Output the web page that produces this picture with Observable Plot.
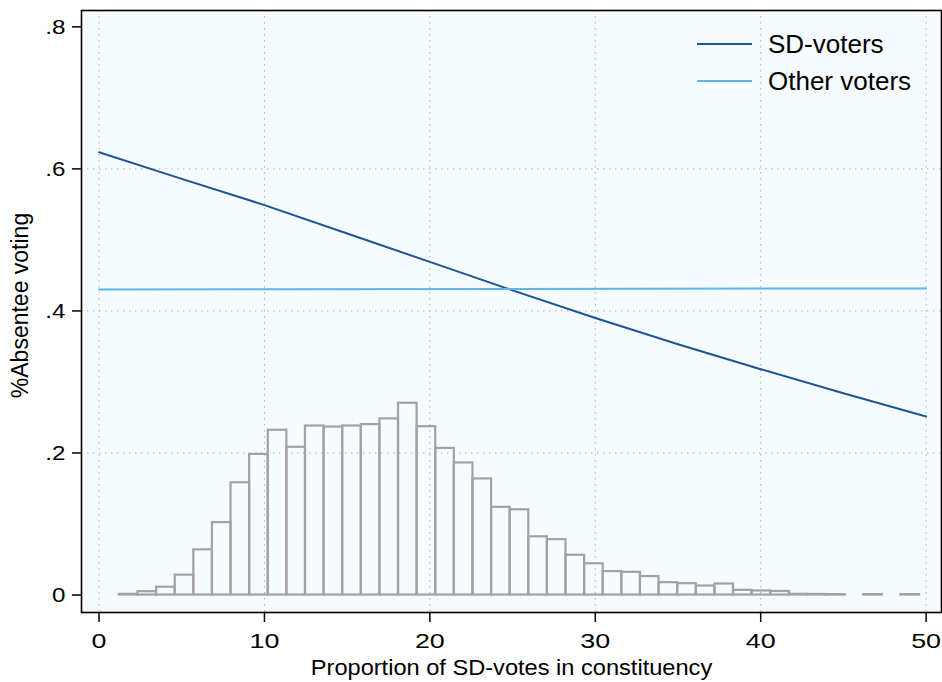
<!DOCTYPE html>
<html>
<head>
<meta charset="utf-8">
<script src="https://cdn.jsdelivr.net/npm/d3@7"></script>
<script src="https://cdn.jsdelivr.net/npm/@observablehq/plot@0.6"></script>
<style>
  body { margin: 0; background: #ffffff; }
  #wrap { position: relative; width: 942px; height: 682px; }
  #legend { position: absolute; left: 697px; top: 25.5px; font-family: "Liberation Sans", Arial, Helvetica, sans-serif; font-size: 26px; color: #000; }
  #legend .item { display: flex; align-items: center; height: 37px; }
  #legend .sw { width: 55px; height: 0; border-top: 2px solid; margin-right: 16px; }
</style>
</head>
<body>
<div id="wrap"><div id="legend"></div></div>
<script>
// Histogram of SD vote share (density), 43 bins
const binStart = 1.23;
const binWidth = 1.125;
const binHeights = [
  0.001, 0.0047, 0.011, 0.028, 0.0636, 0.102, 0.158, 0.198, 0.232, 0.208,
  0.238, 0.2365, 0.238, 0.240, 0.248, 0.270, 0.237, 0.2064, 0.186, 0.1635,
  0.1235, 0.120, 0.082, 0.078, 0.056, 0.044, 0.033, 0.032, 0.026, 0.0174,
  0.016, 0.0127, 0.0155, 0.0066, 0.0057, 0.005, 0.001, 0.0008, 0.0006, 0,
  0.0006, 0, 0.0006
];

// Predicted absentee voting lines
const series = ["SD-voters", "Other voters"];
const seriesColors = ["#1b5592", "#5db6e8"];
const sdX = [0, 5, 10, 15, 20, 25, 30, 35, 40, 45, 50];
const sdY = [0.6235, 0.586, 0.549, 0.509, 0.469, 0.429, 0.390, 0.353, 0.318, 0.284, 0.2514];
const otherX = [0, 25, 50];
const otherY = [0.4303, 0.431, 0.4317];

// Axes
const xTicks = [0, 10, 20, 30, 40, 50];
const yTicks = [0, 0.2, 0.4, 0.6, 0.8];
const yGrid = [0.2, 0.4, 0.6];
const xLabel = "Proportion of SD-votes in constituency";
const yLabel = "%Absentee voting";

const bins = binHeights.map((h, i) => ({
  x1: binStart + i * binWidth,
  x2: binStart + (i + 1) * binWidth,
  h
})).filter(d => d.h > 0);

const sd = sdX.map((x, i) => ({x, y: sdY[i]}));
const other = otherX.map((x, i) => ({x, y: otherY[i]}));

const fontFamily = '"Liberation Sans", Arial, Helvetica, sans-serif';
const yFmt = d => d === 0 ? "0" : String(d).replace(/^0\./, ".");

const chart = Plot.plot({
  width: 942,
  height: 682,
  marginLeft: 81,
  marginTop: 10,
  marginRight: 1,
  marginBottom: 70,
  style: {fontFamily, fontSize: "22px", background: "#ffffff", color: "#000"},
  x: {domain: [-1.06, 50.93]},
  y: {domain: [-0.0246, 0.823]},
  marks: [
    Plot.frame({fill: "#f5fbfe"}),
    Plot.ruleX(xTicks, {stroke: "#b0b0b0", strokeWidth: 1, strokeDasharray: "1.5,4.5"}),
    Plot.ruleY(yGrid, {stroke: "#b0b0b0", strokeWidth: 1, strokeDasharray: "1.5,4.5"}),
    Plot.rectY(bins, {x1: "x1", x2: "x2", y: "h", fill: "none", stroke: "#a2a2a2", strokeWidth: 2.2}),
    Plot.line(sd, {x: "x", y: "y", stroke: seriesColors[0], strokeWidth: 2}),
    Plot.line(other, {x: "x", y: "y", stroke: seriesColors[1], strokeWidth: 2}),
    Plot.frame({stroke: "#000", strokeWidth: 1.6}),
    Plot.axisY(yTicks, {tickSize: 9, tickPadding: 7, tickFormat: yFmt, fontSize: 21, strokeWidth: 1.5,
      label: yLabel, labelAnchor: "center", labelArrow: "none", labelOffset: 70}),
    Plot.axisX(xTicks, {tickSize: 10, tickPadding: 11, tickFormat: d => String(d), fontSize: 21, strokeWidth: 1.5,
      label: xLabel, labelAnchor: "center", labelArrow: "none", labelOffset: 62})
  ]
});

// Stata-style wide glyphs: stretch text horizontally around each anchor
function stretch(selector, sx, extra) {
  chart.querySelectorAll(selector).forEach(t => {
    const tr = t.getAttribute("transform") || "";
    t.setAttribute("transform", `${tr} ${extra || ""} scale(${sx},1)`.trim());
  });
}
stretch('g[aria-label="x-axis tick label"] text', 1.28);
stretch('g[aria-label="y-axis tick label"] text', 1.15);
chart.querySelectorAll('g[aria-label="x-axis label"] text').forEach(t => { t.style.fontSize = "22.5px"; });
stretch('g[aria-label="x-axis label"] text', 1.05);
chart.querySelectorAll('g[aria-label="y-axis label"] text').forEach(t => {
  t.style.fontSize = "23px";
  const tr = t.getAttribute("transform") || "";
  t.setAttribute("transform", `${tr} translate(6,0)`);
});

const wrap = document.getElementById("wrap");
wrap.insertBefore(chart, wrap.firstChild);

const legend = document.getElementById("legend");
series.forEach((s, i) => {
  const item = document.createElement("div");
  item.className = "item";
  const sw = document.createElement("span");
  sw.className = "sw";
  sw.style.borderTopColor = seriesColors[i];
  const tx = document.createElement("span");
  tx.textContent = s;
  item.appendChild(sw);
  item.appendChild(tx);
  legend.appendChild(item);
});
</script>
</body>
</html>
